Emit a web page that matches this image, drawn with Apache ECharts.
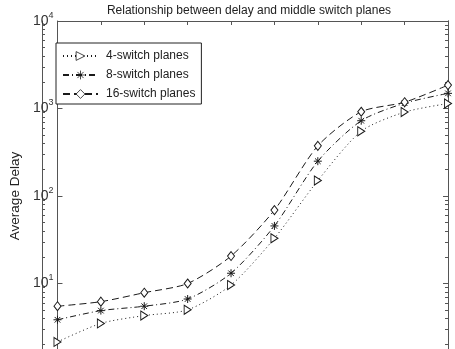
<!DOCTYPE html>
<html><head><meta charset="utf-8">
<script src="https://cdn.jsdelivr.net/npm/echarts@6/dist/echarts.min.js"></script>
<style>html,body{margin:0;padding:0;background:#fff;overflow:hidden}#c{width:455px;height:390px}</style>
</head><body><div id="c"></div>
<script>
var xCats = ['1','2','3','4','5','6','7','8','9','10'];
var planes4 = [2.15, 3.5, 4.3, 5.0, 9.6, 32.9, 150, 550, 910, 1140];
var planes8 = [3.85, 4.9, 5.5, 6.65, 13.1, 45.5, 250, 725, 1150, 1490];
var planes16 = [5.5, 6.2, 7.85, 10, 20.6, 69, 374, 918, 1180, 1850];
var seriesNames = ['4-switch planes', '8-switch planes', '16-switch planes'];
var majorTicks = [1, 10, 100, 1000, 10000];
var minorTicks = [];
[1, 10, 100, 1000].forEach(function (d) { for (var k = 2; k <= 9; k++) minorTicks.push(d * k); });

var chart = echarts.init(document.getElementById('c'));
var ink = '#1a1a1a';
var axisCol = '#555';
var font = 'Liberation Sans, Arial, sans-serif';
var gridRect = { left: 42, right: 7, top: 21, bottom: 19 };

function yAx(gridIndex, pos, ticks, len, labels) {
  return {
    type: 'log', logBase: 10, min: 1, max: 10000, gridIndex: gridIndex, position: pos,
    axisLine: { show: true, lineStyle: { color: axisCol, width: 1 } },
    axisTick: { show: true, inside: true, length: len, customValues: ticks, lineStyle: { color: axisCol } },
    splitLine: { show: false },
    axisLabel: labels ? {
      show: true, margin: 4, customValues: majorTicks,
      formatter: function (v) { return '{a|10}{b|' + Math.round(Math.log10(v)) + '}'; },
      rich: {
        a: { fontSize: 14, fontFamily: font, color: '#333' },
        b: { fontSize: 9, fontFamily: font, color: '#333', verticalAlign: 'bottom', padding: [0, 0, 11, 0] }
      }
    } : { show: false },
    name: labels ? 'Average Delay' : '',
    nameLocation: 'middle', nameGap: 35,
    nameTextStyle: { fontSize: 13.5, fontFamily: font, color: '#222' }
  };
}
function xAx(gridIndex, pos) {
  return {
    type: 'category', data: xCats, boundaryGap: false, gridIndex: gridIndex, position: pos,
    axisLine: { show: true, lineStyle: { color: axisCol, width: 1 } },
    axisTick: { show: true, inside: true, length: 4, alignWithLabel: true, lineStyle: { color: axisCol } },
    axisLabel: { show: false }, splitLine: { show: false }
  };
}

var triPath = 'path://M0,0L10,6L0,12Z';
var starPath = 'path://M0,-1L0,1M-1,0L1,0M-0.7,-0.7L0.7,0.7M-0.7,0.7L0.7,-0.7';

function mk(name, data, symbol, size, dash) {
  return {
    name: name, type: 'line', data: data, xAxisIndex: 0, yAxisIndex: 0,
    smooth: 0.25, symbol: symbol, symbolSize: size,
    lineStyle: { color: ink, width: 1, type: dash },
    itemStyle: { color: '#fff', borderColor: ink, borderWidth: 1 },
    emphasis: { disabled: true }
  };
}

chart.setOption({
  animation: false,
  backgroundColor: '#fff',
  title: {
    text: 'Relationship between delay and middle switch planes',
    left: 244, textAlign: 'center', top: 0,
    textStyle: { fontSize: 12, fontWeight: 'normal', fontFamily: font, color: '#222' }
  },
  legend: {
    left: 56, top: 43, orient: 'vertical',
    itemWidth: 35, itemHeight: 11, itemGap: 7,
    padding: [7, 6, 4, 6],
    borderColor: '#222', borderWidth: 1, backgroundColor: '#fff',
    itemStyle: { borderWidth: 0.8 },
    textStyle: { fontSize: 12, fontFamily: font, color: '#222', padding: [0, 0, 0, 3] },
    data: seriesNames
  },
  grid: [
    Object.assign({}, gridRect),
    Object.assign({}, gridRect)
  ],
  xAxis: [xAx(0, 'bottom'), xAx(0, 'top'), xAx(1, 'bottom')],
  yAxis: [
    yAx(0, 'left', majorTicks, 5, true),
    yAx(0, 'right', majorTicks, 5, false),
    yAx(1, 'left', minorTicks, 3, false),
    yAx(1, 'right', minorTicks, 3, false)
  ],
  series: [
    mk(seriesNames[0], planes4, triPath, [7, 9], [1, 3]),
    mk(seriesNames[1], planes8, starPath, 8, [6, 3, 1, 3]),
    mk(seriesNames[2], planes16, 'diamond', [7, 9], [7, 4])
  ]
});
</script>
</body></html>
